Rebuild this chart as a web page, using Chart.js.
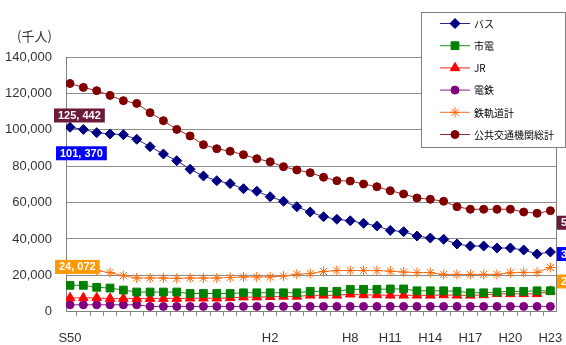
<!DOCTYPE html>
<html>
<head>
<meta charset="utf-8">
<script src="https://cdn.jsdelivr.net/npm/chart.js@4"></script>
<style>
  html, body { margin: 0; padding: 0; background: #fff; overflow: hidden; }
  canvas { display: block; }
</style>
</head>
<body>
<canvas id="c" width="566" height="345"></canvas>
<script>
// Fiscal years S50 (1975) .. H23 (2011)
const categories = [
  'S50','S51','S52','S53','S54','S55','S56','S57','S58','S59','S60','S61','S62','S63',
  'H1','H2','H3','H4','H5','H6','H7','H8','H9','H10','H11','H12','H13','H14','H15',
  'H16','H17','H18','H19','H20','H21','H22','H23'
];
// Year labels printed under the axis
const shownTicks = ['S50', 'H2', 'H8', 'H11', 'H14', 'H17', 'H20', 'H23'];

// Passengers, thousands of people
const bus = [
  101370, 100200, 98400, 97700, 97300, 94800, 90700, 86700, 83000, 78300,
  74600, 72000, 70400, 67600, 66200, 63200, 60700, 57700, 54800, 52200,
  50800, 50000, 48600, 47100, 44700, 44000, 41600, 40500, 39800, 37200,
  36100, 36100, 35000, 35000, 33900, 31700, 32800
];
const tram = [
  14500, 14500, 13400, 13000, 11900, 10800, 10800, 10800, 10800, 10000,
  10000, 10000, 10000, 10400, 10400, 10400, 10400, 10400, 11200, 11200,
  11200, 12300, 12300, 12300, 12500, 12500, 11500, 11500, 11500, 11200,
  10400, 10400, 10800, 11200, 11200, 11500, 11500
];
const jr = [
  7600, 7600, 7600, 7200, 7200, 7200, 7200, 7200, 7200, 7400,
  7400, 7400, 7600, 8000, 8000, 8200, 8400, 8400, 9000, 9000,
  9000, 9600, 9200, 9200, 9000, 9000, 9000, 9000, 9200, 9000,
  9000, 9200, 9800, 9800, 9800, 9800, 11200
];
const privateRail = [
  3800, 3800, 3800, 3800, 3800, 3800, 2900, 2900, 2900, 2900,
  2900, 2900, 2900, 2900, 2900, 2900, 2900, 2900, 2900, 2900,
  2900, 2900, 2900, 2900, 2900, 2900, 2900, 2900, 2900, 2900,
  2900, 2900, 2900, 2900, 2900, 2900, 2900
];
const railTotal = [
  24072, 23500, 22600, 21500, 19800, 18500, 18500, 18500, 18300, 18500,
  18500, 18500, 18800, 19100, 19100, 19100, 19600, 20600, 21000, 22100,
  22600, 22600, 22600, 22600, 22300, 21800, 21500, 21500, 20500, 20500,
  20500, 20500, 20500, 21400, 21600, 21600, 24300
];
const publicTotal = [
  125442, 123300, 121500, 118900, 116000, 114500, 109400, 105000, 100200, 96600,
  91800, 89600, 88200, 86300, 84100, 82400, 79700, 77900, 76400, 73900,
  72000, 71800, 70200, 68700, 66500, 64700, 62500, 61800, 60700, 57700,
  56300, 56300, 56300, 56300, 54800, 54100, 55500
];

const seriesNames = ['バス', '市電', 'JR', '電鉄', '鉄軌道計', '公共交通機関総計'];

const LATIN = '"Liberation Sans", Arial, sans-serif';
const CJK = '"Noto Sans CJK JP", "Noto Sans", sans-serif';

const pts = (arr) => arr.map((v, i) => ({ x: i, y: v }));

function series(label, data, color, lineColor, style, radius) {
  return {
    label, data: pts(data),
    borderColor: lineColor, backgroundColor: color,
    pointBackgroundColor: color, pointBorderColor: color,
    borderWidth: 1, pointStyle: style, pointRadius: radius,
    pointBorderWidth: 1, tension: 0, fill: false
  };
}

const datasets = [
  series(seriesNames[0], bus, '#000080', '#2a2a8a', 'rectRot', 5),
  series(seriesNames[1], tram, '#008000', '#1e8c1e', 'rect', 5.5),
  series(seriesNames[2], jr, '#ff0000', '#ff2020', 'triangle', 5.5),
  series(seriesNames[3], privateRail, '#800080', '#8a208a', 'circle', 4),
  series(seriesNames[4], railTotal, '#ff6600', '#ff7020', 'star', 5),
  series(seriesNames[5], publicTotal, '#800000', '#962a2a', 'circle', 4)
];

const fmtLabel = (v) => v.toLocaleString('en-US').replace(/,/g, ', ');

// Value boxes at the first and last year of three series
const valueBoxes = [
  { ds: 5, idx: 0, dx: -16, dy: 25, fill: '#6b1a3a' },
  { ds: 0, idx: 0, dx: -14, dy: 19, fill: '#0000ff' },
  { ds: 4, idx: 0, dx: -15, dy: -8, fill: '#ff9900' },
  { ds: 5, idx: 36, dx: 6.5, dy: 5, fill: '#6b1a3a' },
  { ds: 0, idx: 36, dx: 6.5, dy: -5, fill: '#0000ff' },
  { ds: 4, idx: 36, dx: 6.5, dy: 7, fill: '#ff9900' }
];

function drawMarker(ctx, style, radius, color, x, y) {
  const h = Chart.helpers;
  ctx.save();
  ctx.fillStyle = color;
  ctx.strokeStyle = color;
  ctx.lineWidth = 1;
  if (h && h.drawPoint) {
    h.drawPoint(ctx, { pointStyle: style, radius, rotation: 0, borderWidth: 1 }, x, y);
  } else {
    ctx.beginPath();
    ctx.arc(x, y, radius, 0, Math.PI * 2);
    ctx.fill();
  }
  ctx.restore();
}

const decorations = {
  id: 'decorations',
  beforeDatasetsDraw(chart) {
    const { ctx, chartArea: a } = chart;
    ctx.save();
    ctx.strokeStyle = '#808080';
    ctx.lineWidth = 1;
    ctx.beginPath();
    ctx.moveTo(Math.round(a.right) + 0.5, a.top);
    ctx.lineTo(Math.round(a.right) + 0.5, a.bottom);
    ctx.stroke();
    ctx.restore();
  },
  afterDraw(chart) {
    const { ctx } = chart;
    const xs = chart.scales.x;
    const ys = chart.scales.y;

    // unit caption
    ctx.save();
    ctx.fillStyle = '#333333';
    ctx.font = '13px ' + CJK;
    ctx.textBaseline = 'middle';
    ctx.textAlign = 'left';
    ctx.fillText('(千人)', 17, 36);
    ctx.restore();

    // value boxes
    ctx.save();
    ctx.font = 'bold 11px ' + LATIN;
    ctx.textBaseline = 'middle';
    ctx.textAlign = 'left';
    valueBoxes.forEach(b => {
      const v = chart.data.datasets[b.ds].data[b.idx].y;
      const px = xs.getPixelForValue(b.idx);
      const py = ys.getPixelForValue(v);
      const txt = fmtLabel(v);
      const w = ctx.measureText(txt).width + 8;
      const left = px + b.dx, top = py + b.dy;
      ctx.fillStyle = b.fill;
      ctx.fillRect(left, top, w, 14);
      ctx.fillStyle = '#ffffff';
      ctx.fillText(txt, left + 4, top + 7.5);
    });
    ctx.restore();

    // legend
    ctx.save();
    const L = 421.5, T = 12.5, R = 565.5, B = 147.5;
    ctx.fillStyle = '#ffffff';
    ctx.fillRect(L, T, R - L, B - T);
    ctx.strokeStyle = '#808080';
    ctx.lineWidth = 1;
    ctx.strokeRect(L, T, R - L, B - T);
    ctx.font = '10px ' + CJK;
    ctx.textBaseline = 'middle';
    ctx.textAlign = 'left';
    chart.data.datasets.forEach((ds, i) => {
      const y = 23.5 + i * 22.2;
      ctx.strokeStyle = ds.borderColor;
      ctx.lineWidth = 1;
      ctx.beginPath();
      ctx.moveTo(440, y);
      ctx.lineTo(470, y);
      ctx.stroke();
      drawMarker(ctx, ds.pointStyle, ds.pointRadius, ds.pointBackgroundColor, 455, y);
      ctx.fillStyle = '#000000';
      ctx.fillText(ds.label, 474, y + 0.5);
    });
    ctx.restore();
  }
};

new Chart(document.getElementById('c'), {
  type: 'line',
  data: { datasets },
  plugins: [decorations],
  options: {
    responsive: false,
    animation: false,
    devicePixelRatio: 1,
    layout: { padding: { left: 0, right: 10, top: 57, bottom: 0 } },
    plugins: { legend: { display: false }, tooltip: { enabled: false } },
    scales: {
      x: {
        type: 'linear',
        min: -0.3,
        max: 36.42,
        afterBuildTicks: (s) => { s.ticks = categories.map((_, i) => ({ value: i })); },
        afterFit: (s) => { s.height = 33.3; s.paddingLeft = 0; s.paddingRight = 0; },
        ticks: {
          autoSkip: false,
          maxRotation: 0,
          padding: 15,
          color: '#333333',
          font: { family: LATIN, size: 13 },
          callback: (v) => (shownTicks.includes(categories[v]) ? categories[v] : '')
        },
        grid: { offset: true, drawOnChartArea: false, drawTicks: true, tickLength: 4, color: '#808080' },
        border: { color: '#808080' }
      },
      y: {
        min: 0,
        max: 140000,
        afterFit: (s) => { s.width = 66; },
        ticks: {
          stepSize: 20000,
          padding: 14,
          color: '#333333',
          font: { family: LATIN, size: 13 },
          callback: (v) => v.toLocaleString('en-US')
        },
        grid: { color: '#8c8c8c', drawTicks: false },
        border: { color: '#808080' }
      }
    }
  }
});
</script>
</body>
</html>
